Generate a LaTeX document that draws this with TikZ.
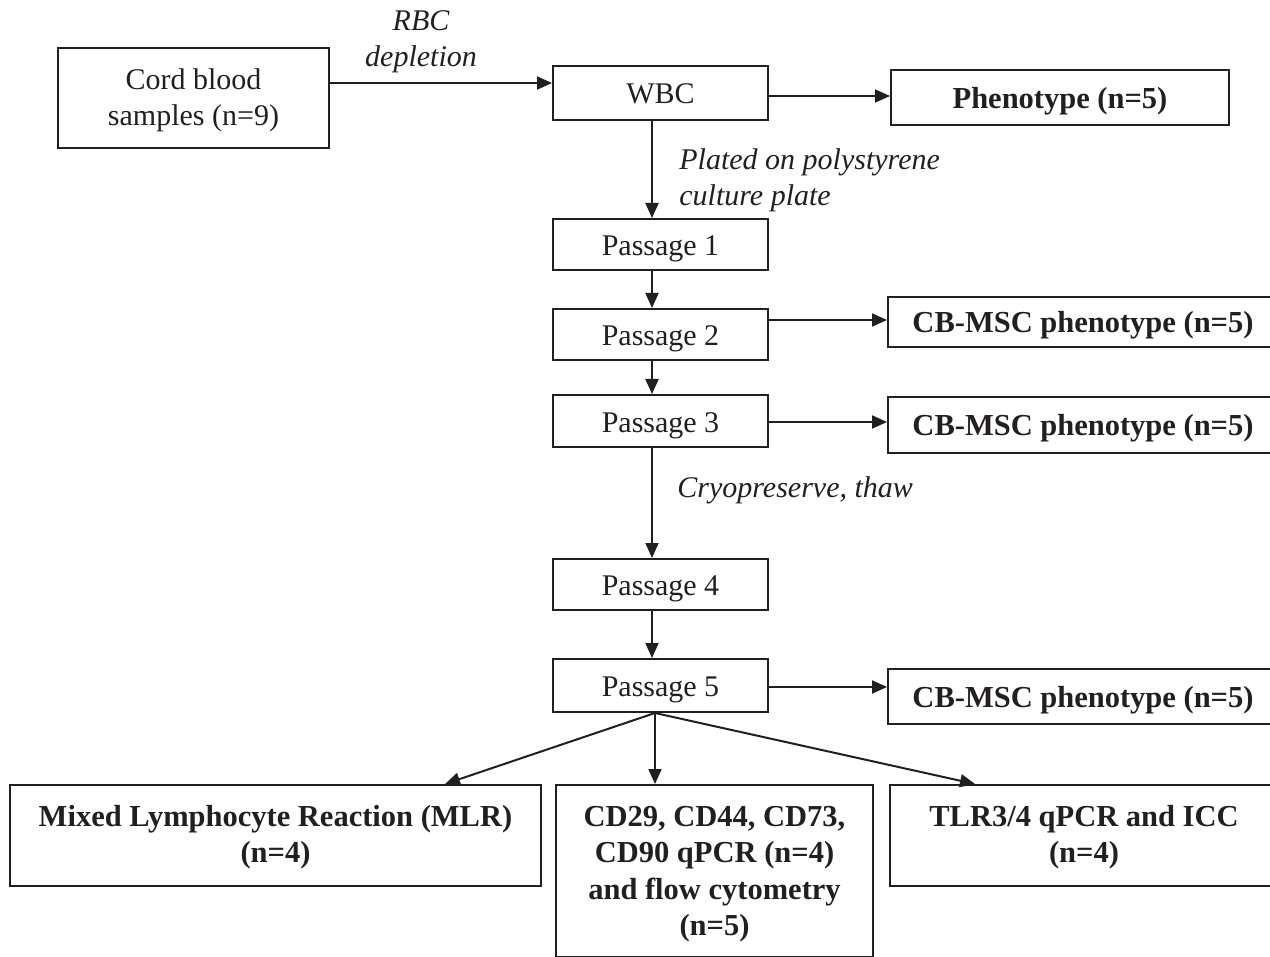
\documentclass[tikz,border=0pt]{standalone}
\usepackage{fontspec}
\setmainfont{Liberation Serif}
\usetikzlibrary{arrows.meta}
\definecolor{ink}{HTML}{231F20}
\begin{document}
\begin{tikzpicture}[x=0.5pt,y=-0.5pt,
  every node/.style={text=ink},
  boxn/.style={draw=ink, line width=1pt, inner sep=0pt, align=center, font=\fontsize{15}{18}\selectfont},
  boxb/.style={boxn, font=\fontsize{15.25}{18.2}\selectfont\bfseries},
  one/.style={text height=12.5pt, text depth=1.5pt},
  multi/.style={text depth=1.3pt},
  lbl/.style={font=\fontsize{15}{18}\selectfont\itshape, inner sep=0pt},
  arr/.style={draw=ink, line width=1pt, -{Triangle[length=7.5pt,width=6.5pt]}}]
\useasboundingbox (0,0) rectangle (1270,957);
\clip (0,0) rectangle (1270,957);
% guide coordinates
\coordinate (sp) at (652,0);
\coordinate (c5) at (655,0);
\coordinate (t1) at (445,0);
\coordinate (t3) at (975,0);
% nodes
\node[boxn, multi, minimum width=135.5pt, minimum height=50pt] (cord) at (193.5,98) {Cord blood\\samples (n=9)};
\node[boxn, one, minimum width=107.5pt, minimum height=27pt] (wbc) at (660.5,93) {WBC};
\node[boxb, one, minimum width=169pt, minimum height=27.5pt] (phen) at (1060,97.5) {Phenotype (n=5)};
\node[boxn, one, minimum width=107.5pt, minimum height=25.5pt] (p1) at (660.5,244.5) {Passage 1};
\node[boxn, one, minimum width=107.5pt, minimum height=25.5pt] (p2) at (660.5,334.5) {Passage 2};
\node[boxn, one, minimum width=107.5pt, minimum height=26pt] (p3) at (660.5,421) {Passage 3};
\node[boxn, one, minimum width=107.5pt, minimum height=25.5pt] (p4) at (660.5,584.5) {Passage 4};
\node[boxn, one, minimum width=107.5pt, minimum height=26.5pt] (p5) at (660.5,685.5) {Passage 5};
\node[boxb, one, minimum width=195pt, minimum height=25pt] (cb1) at (1083,322) {CB-MSC phenotype (n=5)};
\node[boxb, one, minimum width=195pt, minimum height=28pt] (cb2) at (1083,425) {CB-MSC phenotype (n=5)};
\node[boxb, one, minimum width=195pt, minimum height=27.5pt] (cb3) at (1083,696.5) {CB-MSC phenotype (n=5)};
\node[boxb, multi, minimum width=265.5pt, minimum height=50.5pt] (mlr) at (275.5,835.5) {Mixed Lymphocyte Reaction (MLR)\\(n=4)};
\node[boxb, text depth=0pt, minimum width=158.5pt, minimum height=86pt] (cd) at (714.5,871) {CD29, CD44, CD73,\\CD90 qPCR (n=4)\\and flow cytometry\\(n=5)};
\node[boxb, multi, minimum width=194pt, minimum height=50.5pt] (tlr) at (1084,835.5) {TLR3/4 qPCR and ICC\\(n=4)};
% labels
\node[lbl, align=center] (lrbc) at (421,42) {RBC\\depletion};
\node[lbl, align=left, anchor=west] (lplate) at (679,180) {Plated on polystyrene\\culture plate};
\node[lbl, anchor=west] (lcryo) at (677,490) {Cryopreserve, thaw};
% connectors
\draw[arr] (cord.east |- 0,83) -- (wbc.west |- 0,83);
\draw[arr] (wbc.east |- 0,96) -- (phen.west |- 0,96);
\draw[arr] (wbc.south -| sp) -- (p1.north -| sp);
\draw[arr] (p1.south -| sp) -- (p2.north -| sp);
\draw[arr] (p2.east |- 0,320) -- (cb1.west |- 0,320);
\draw[arr] (p2.south -| sp) -- (p3.north -| sp);
\draw[arr] (p3.east |- 0,422) -- (cb2.west |- 0,422);
\draw[arr] (p3.south -| sp) -- (p4.north -| sp);
\draw[arr] (p4.south -| sp) -- (p5.north -| sp);
\draw[arr] (p5.east |- 0,687) -- (cb3.west |- 0,687);
\draw[arr] (p5.south -| c5) -- (mlr.north -| t1);
\draw[arr] (p5.south -| c5) -- (cd.north -| c5);
\draw[arr] (p5.south -| c5) -- (tlr.north -| t3);
\end{tikzpicture}
\end{document}
